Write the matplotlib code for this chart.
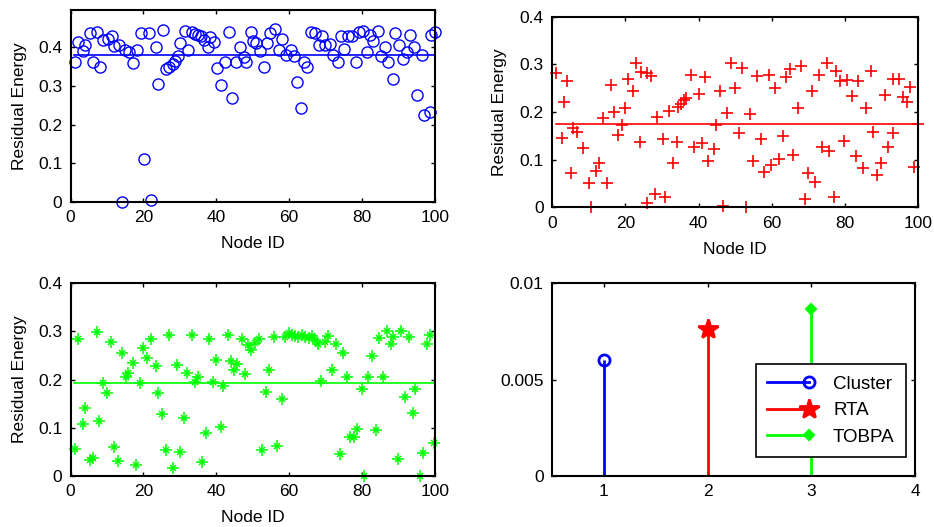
import matplotlib
matplotlib.use("Agg")
import matplotlib.pyplot as plt
from matplotlib.ticker import FuncFormatter
from matplotlib.lines import Line2D
from matplotlib.legend_handler import HandlerLine2D

plt.rcParams['font.family'] = ['Liberation Sans', 'DejaVu Sans']
plt.rcParams['font.size'] = 12.5

# ---- data ----
# Cluster (top left)
cluster_ids = [1.1, 2, 3.3, 4.1, 5.3, 6.1, 7.4, 8.1, 9, 10.3, 11.5, 11.9, 13.4, 14.2, 14.9, 16, 17.2, 18.2,
               19.3, 20.2, 21.5, 22, 23.4, 24.1, 25.4, 26.1, 27, 28, 28.7, 29.5, 30.1, 31.4, 32.1, 33.3, 34.2,
               35, 35.8, 36.5, 37.6, 38.3, 39.4, 40.1, 41.4, 42.3, 43.4, 44.2, 45.3, 46.4, 47.5, 48.2, 49.4,
               50, 50.9, 52.1, 53, 54, 54.8,
               56.2, 57.1, 58, 59, 60.4, 61.2, 62.2, 63.1, 64.1, 65, 66.1, 67, 68.2, 69, 69.9, 71.1, 72.1,
               73.3, 74.1, 75.1, 76, 77.1, 78.3, 79.1, 80.3, 81.2, 82.2, 83.1, 84.3, 85.2, 86.3, 87.2, 88.4,
               89, 90.2, 91.1, 92.3, 93.2, 94.3, 95.1, 96.4, 97, 98.5, 99, 100]
cluster_energy = [0.363, 0.414, 0.390, 0.405, 0.436, 0.363, 0.439, 0.348, 0.420, 0.423, 0.429, 0.404, 0.405,
                  0.0, 0.394, 0.389, 0.359, 0.394, 0.436, 0.110, 0.436, 0.004, 0.401, 0.306, 0.446, 0.344,
                  0.348, 0.357, 0.364, 0.378, 0.411, 0.442, 0.392, 0.440, 0.435, 0.433, 0.429, 0.419, 0.400,
                  0.426, 0.413, 0.347, 0.302, 0.361, 0.439, 0.269, 0.362, 0.401, 0.376, 0.362, 0.439, 0.417,
                  0.411, 0.390, 0.348, 0.411, 0.438,
                  0.448, 0.394, 0.423, 0.379, 0.394, 0.378, 0.310, 0.243, 0.363, 0.350, 0.440, 0.438, 0.405,
                  0.429, 0.405, 0.408, 0.379, 0.363, 0.429, 0.397, 0.430, 0.430, 0.361, 0.440, 0.443, 0.387,
                  0.433, 0.417, 0.443, 0.378, 0.400, 0.363, 0.318, 0.436, 0.405, 0.370, 0.389, 0.431, 0.402,
                  0.276, 0.379, 0.224, 0.232, 0.431, 0.440]
cluster_avg = 0.379

# RTA (top right)
rta_ids = [1.0, 2.6, 3.2, 4.1, 5.0, 5.8, 6.7, 8.5, 10.1, 10.7, 12, 12.9, 14, 14.9, 16, 16.9, 18, 19, 19.9,
           20.8, 22, 22.9, 24.1, 24.4, 25.8, 26, 27.1, 28.1, 28.7, 30.2, 30.9, 31.9, 32.9, 34, 34.5, 35.2, 36,
           36.7, 38, 38.8, 40, 40.9, 41.8, 42.7, 44.1, 44.8, 46, 46.6, 47.8, 48.8, 50, 51.1, 52, 53.1, 54, 54.9,
           55.9, 57.2, 57.9, 59.3, 59.7, 60.9, 62.1, 63.2, 63.9, 65, 65.9, 67.1, 67.9, 69.1, 70, 70.9, 71.8,
           73, 73.7, 75, 75.7, 77, 77.7, 78.6, 79.7, 80.6, 81.9, 83, 83.7, 85, 85.8, 87.1, 87.8, 88.9, 89.8,
           91, 91.7, 93.1, 93.2, 94.9, 95.8, 96.9, 97.8, 98.9, 100]
rta_energy = [0.281, 0.145, 0.220, 0.265, 0.073, 0.166, 0.159, 0.125, 0.052, 0.001, 0.077, 0.094, 0.187, 0.052,
              0.257, 0.199, 0.152, 0.173, 0.208, 0.269, 0.245, 0.303, 0.138, 0.285, 0.281, 0.010, 0.276, 0.029,
              0.189, 0.143, 0.021, 0.203, 0.092, 0.138, 0.210, 0.217, 0.225, 0.229, 0.278, 0.127, 0.237, 0.134,
              0.274, 0.097, 0.122, 0.173, 0.245, 0.003, 0.197, 0.303, 0.250, 0.155, 0.292, 0.0, 0.195, 0.098,
              0.276, 0.143, 0.075, 0.278, 0.089, 0.250, 0.101, 0.150, 0.274, 0.290, 0.110, 0.208, 0.297, 0.017,
              0.073, 0.245, 0.054, 0.278, 0.127, 0.303, 0.119, 0.021, 0.287, 0.265, 0.140, 0.267, 0.234, 0.108,
              0.266, 0.082, 0.208, 0.287, 0.159, 0.068, 0.092, 0.236, 0.127, 0.157, 0.269, 0.269, 0.232, 0.220,
              0.253, 0.085, 0.175]
rta_avg = 0.175

# TOBPA (bottom left)
tobpa_ids = [1.2, 2.1, 3.3, 4, 5.3, 6.3, 7.2, 7.9, 9, 10.1, 11.1, 11.9, 13.1, 14, 15.2, 15.9, 17.1, 18, 19.1,
             20, 21.1, 22, 23.5, 23.9, 25.2, 26.1, 27.1, 28.1, 29.1, 30, 31.1, 31.9, 33.3, 34.2, 34.9, 36, 37.1,
             38.1, 39, 39.9, 41.2, 41.9, 43.1, 44, 44.9, 45.8, 47, 47.9, 48.8, 49.5, 50.6, 51.7, 52.5, 53.6, 54.5,
             55.8, 56.7, 57.9, 58.7, 59.8, 60.7, 61.6, 62.5, 63.5, 64.4, 65.3, 66.2, 67.2, 68, 68.7, 69.8, 70.7,
             71.8, 72.8, 73.8, 74.8, 75.9, 76.7, 77.8, 78.7, 79.9, 80.6, 81.7, 82.6, 83.8, 84.6, 85.8, 86.7,
             87.9, 88.5, 89.8, 90.6, 91.8, 92.8, 93.9, 94.6, 95.9, 96.6, 97.7, 98.7, 99.7]
tobpa_energy = [0.057, 0.284, 0.108, 0.142, 0.033, 0.037, 0.298, 0.114, 0.194, 0.173, 0.279, 0.061, 0.031,
                0.256, 0.205, 0.213, 0.235, 0.023, 0.192, 0.265, 0.244, 0.284, 0.228, 0.173, 0.129, 0.054,
                0.293, 0.017, 0.230, 0.050, 0.121, 0.214, 0.293, 0.196, 0.205, 0.028, 0.090, 0.284, 0.196,
                0.241, 0.102, 0.187, 0.293, 0.239, 0.220, 0.232, 0.284, 0.212, 0.272, 0.262, 0.277, 0.284,
                0.054, 0.175, 0.220, 0.289, 0.062, 0.159, 0.289, 0.296, 0.293, 0.291, 0.289, 0.293, 0.289,
                0.286, 0.291, 0.282, 0.274, 0.198, 0.279, 0.291, 0.221, 0.274, 0.046, 0.256, 0.205, 0.080,
                0.080, 0.097, 0.181, 0.0, 0.205, 0.249, 0.095, 0.286, 0.205, 0.300, 0.274, 0.289, 0.035,
                0.300, 0.163, 0.289, 0.131, 0.180, 0.0, 0.048, 0.274, 0.293, 0.069]
tobpa_avg = 0.192

# bottom right stems
methods = ['Cluster', 'RTA', 'TOBPA']
method_pos = [1, 2, 3]
method_val = [0.0060, 0.00761, 0.00867]

fmt = FuncFormatter(lambda v, p: '%g' % v)


class EndMarkerHandler(HandlerLine2D):
    # matlab style legend entry: line with the marker sitting at its right end
    def create_artists(self, legend, orig_handle, xdescent, ydescent, width, height, fontsize, trans):
        arts = super().create_artists(legend, orig_handle, xdescent, ydescent, width, height, fontsize, trans)
        line = arts[0]
        n = len(line.get_xdata())
        line.set_markevery([n - 1])
        return arts


def style(ax):
    for s in ax.spines.values():
        s.set_linewidth(1.5)
    ax.tick_params(direction='in', top=True, right=True, length=3, width=1, labelsize=12.5, pad=6)
    ax.yaxis.set_major_formatter(fmt)


fig = plt.figure(figsize=(9.34, 5.27), dpi=100)

ax1 = fig.add_axes([0.0755, 0.6173, 0.3903, 0.3638])
ax1.plot(cluster_ids, cluster_energy, 'o', ms=8, mfc='none', mec=(0, 0, 1), mew=1.0, clip_on=False)
ax1.plot([1, 100], [cluster_avg, cluster_avg], color=(0, 0, 1), lw=1.2)
ax1.set_xlim(0, 100)
ax1.set_ylim(0, 0.497)
ax1.set_xticks(range(0, 101, 20))
ax1.set_yticks([0, 0.1, 0.2, 0.3, 0.4])
ax1.set_xlabel('Node ID', labelpad=8)
ax1.set_ylabel('Residual Energy', labelpad=8)
style(ax1)

ax2 = fig.add_axes([0.5913, 0.6066, 0.3915, 0.3617])
ax2.plot(rta_ids, rta_energy, '+', ms=9, color=(1, 0, 0), mew=1.2, clip_on=False)
ax2.plot([1, 100], [rta_avg, rta_avg], color=(1, 0, 0), lw=1.2)
ax2.set_xlim(0, 100)
ax2.set_ylim(0, 0.4)
ax2.set_xticks(range(0, 101, 20))
ax2.set_yticks([0, 0.1, 0.2, 0.3, 0.4])
ax2.set_xlabel('Node ID', labelpad=8)
ax2.set_ylabel('Residual Energy', labelpad=9)
style(ax2)

ax3 = fig.add_axes([0.0755, 0.0968, 0.3903, 0.3657])
ax3.plot(tobpa_ids, tobpa_energy, '+', ms=9, color=(0, 1, 0), mew=1.1, clip_on=False)
ax3.plot(tobpa_ids, tobpa_energy, 'x', ms=5, color=(0, 1, 0), mew=1.1, clip_on=False)
ax3.plot([1, 100], [tobpa_avg, tobpa_avg], color=(0, 1, 0), lw=1.2)
ax3.set_xlim(0, 100)
ax3.set_ylim(0, 0.4)
ax3.set_xticks(range(0, 101, 20))
ax3.set_yticks([0, 0.1, 0.2, 0.3, 0.4])
ax3.set_xlabel('Node ID', labelpad=8)
ax3.set_ylabel('Residual Energy', labelpad=8)
style(ax3)

ax4 = fig.add_axes([0.5910, 0.0968, 0.3887, 0.3657])
colors = [(0, 0, 1), (1, 0, 0), (0, 1, 0)]
markers = ['o', '*', 'D']
msizes = [8, 15, 5]
handles = []
for pos, val, c, m, msz, name in zip(method_pos, method_val, colors, markers, msizes, methods):
    cont = ax4.stem([pos], [val], basefmt=' ')
    cont.stemlines.set_color(c)
    cont.stemlines.set_linewidth(2)
    cont.markerline.set_marker(m)
    cont.markerline.set_markersize(msz)
    cont.markerline.set_color(c)
    cont.markerline.set_markeredgewidth(2 if m != 'D' else 1.5)
    if m == 'o':
        cont.markerline.set_markerfacecolor('none')
    cont.markerline.set_clip_on(False)
    handles.append(Line2D([], [], color=c, lw=2, marker=m, ms=msz, mew=2 if m != 'D' else 1.5,
                          mfc='none' if m == 'o' else c, label=name))
ax4.set_xlim(0.5, 4)
ax4.set_ylim(0, 0.01)
ax4.set_xticks([1, 2, 3, 4])
ax4.set_yticks([0, 0.005, 0.01])
style(ax4)
leg = ax4.legend(handles=handles, handler_map={Line2D: EndMarkerHandler()}, loc='lower right',
                 bbox_to_anchor=(0.975, 0.099), borderaxespad=0, fontsize=13.5, fancybox=False,
                 framealpha=1, edgecolor='black', handlelength=2.2, handletextpad=1.3,
                 labelspacing=0.5, borderpad=0.6)
leg.get_frame().set_linewidth(1.2)

fig.savefig('out.png', dpi=100)
